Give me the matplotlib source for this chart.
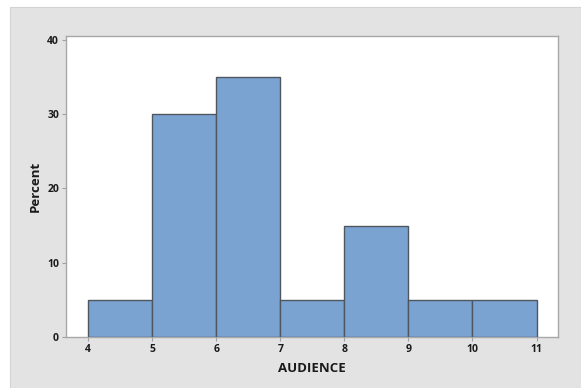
import numpy as np
import matplotlib
matplotlib.use("Agg")
import matplotlib.pyplot as plt
from matplotlib.patches import Rectangle

# histogram data
bin_edges = [4, 5, 6, 7, 8, 9, 10, 11]
percent = [5, 30, 35, 5, 15, 5, 5]
x_ticks = [4, 5, 6, 7, 8, 9, 10, 11]
y_ticks = [0, 10, 20, 30, 40]

plt.rcParams['font.family'] = ['Open Sans', 'DejaVu Sans']

W, H = 581, 388
fig = plt.figure(figsize=(W / 100, H / 100), dpi=100, facecolor='white')

# gray panel behind the graph (Minitab style)
fig.patches.append(Rectangle((10 / W, 0), 1 - 10 / W, 1 - 7 / H,
                             transform=fig.transFigure, facecolor='#e3e3e3',
                             edgecolor='#d4d4d4', linewidth=0.8, zorder=-5))

ax = fig.add_axes([66 / W, 1 - 336.7 / H, (557.7 - 66) / W, (336.7 - 36) / H])
ax.set_zorder(5)
ax.set_facecolor('white')

edges = np.array(bin_edges)
ax.bar(edges[:-1], percent, width=np.diff(edges), align='edge',
       color='#7ba3d2', edgecolor='#50565d', linewidth=1.0, zorder=3)

ax.set_xlim(3.656, 11.33)
ax.set_ylim(0, 40.58)
ax.set_xticks(x_ticks)
ax.set_yticks(y_ticks)
ax.tick_params(axis='both', length=3, width=0.8, color='#a0a0a0',
               labelsize=7.5, labelcolor='#1a1a1a', pad=2)
for lab in ax.get_xticklabels() + ax.get_yticklabels():
    lab.set_fontweight('bold')

for s in ax.spines.values():
    s.set_color('#a8a8a8')
    s.set_linewidth(1.0)

ax.set_xlabel('AUDIENCE', fontsize=9.5, fontweight='bold', color='#1a1a1a', labelpad=5)
ax.set_ylabel('Percent', fontsize=9.5, fontweight='bold', color='#1a1a1a', labelpad=4)

fig.savefig('out.png', dpi=100, facecolor=fig.get_facecolor())
